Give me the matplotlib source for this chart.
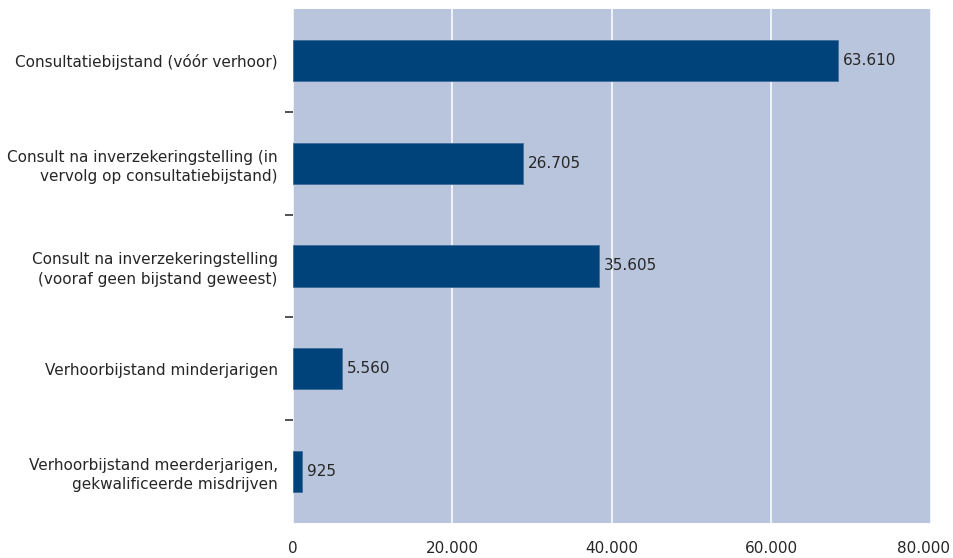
import matplotlib
matplotlib.use("Agg")
import matplotlib.pyplot as plt
import matplotlib.transforms as mtransforms
import numpy as np

# categories, top to bottom
categories = [
    "Consultatiebijstand (vóór verhoor)",
    "Consult na inverzekeringstelling (in\nvervolg op consultatiebijstand)",
    "Consult na inverzekeringstelling\n(vooraf geen bijstand geweest)",
    "Verhoorbijstand minderjarigen",
    "Verhoorbijstand meerderjarigen,\ngekwalificeerde misdrijven",
]
# printed values next to the bars
counts = [63610, 26705, 35605, 5560, 925]
# bar lengths as drawn in the picture (read against the x axis)
bar_lengths = [68300, 28850, 38400, 6150, 1130]

x_ticks = [0, 20000, 40000, 60000, 80000]

BG = "#B9C5DD"
BAR = "#00427A"
TXT = "#262626"
FONT = 11


def fmt_nl(v):
    return f"{v:,}".replace(",", ".")


fig = plt.figure(figsize=(9.54, 5.58), dpi=100)
ax = fig.add_axes([0.3071, 0.0627, 0.6688, 0.9212])
ax.set_facecolor(BG)

y = np.arange(len(categories))
ax.barh(y, bar_lengths, height=0.4, color=BAR, edgecolor="#3F6E9C", linewidth=0.6, zorder=3)

for yi, length, v in zip(y, bar_lengths, counts):
    ax.annotate(fmt_nl(v), (length, yi), xytext=(3.5, 0), textcoords="offset points",
                va="center", ha="left", fontsize=FONT, color=TXT, zorder=4)

ax.set_xlim(0, 80000)
ax.set_ylim(len(categories) - 0.5, -0.5)

ax.set_xticks(x_ticks)
ax.set_xticklabels([fmt_nl(t) for t in x_ticks], fontsize=FONT, color=TXT)
ax.tick_params(axis="x", length=0, pad=13)
ax.grid(axis="x", color="white", linewidth=1.1, zorder=1)
ax.set_axisbelow(True)

# category labels placed between the boundary ticks
ax.set_yticks(y)
ax.set_yticklabels(categories, fontsize=FONT, color=TXT, ha="right",
                   multialignment="right", linespacing=1.35)
ax.tick_params(axis="y", which="major", length=0, pad=11)
ax.set_yticks(np.arange(0.5, len(categories) - 1, 1.0), minor=True)
ax.tick_params(axis="y", which="minor", length=6, width=1.2, color="#333333")

for side in ["top", "right", "bottom", "left"]:
    ax.spines[side].set_visible(False)

# keep the last x label inside the figure
last = ax.get_xticklabels()[-1]
last.set_transform(last.get_transform() + mtransforms.ScaledTranslation(-8 / 100, 0, fig.dpi_scale_trans))

fig.savefig("out.png", dpi=100)
